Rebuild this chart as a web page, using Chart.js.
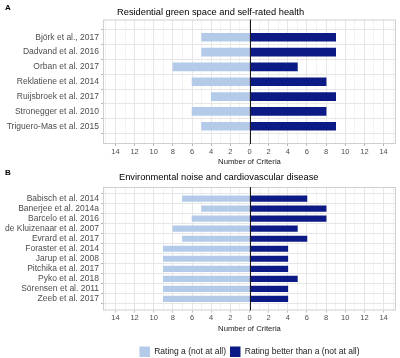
<!DOCTYPE html>
<html>
<head>
<meta charset="utf-8">
<script src="https://cdn.jsdelivr.net/npm/chart.js@4"></script>
<style>
  html, body { margin: 0; padding: 0; width: 400px; height: 358px; overflow: hidden; background: #fff; font-family: "Liberation Sans", Arial, sans-serif; }
  .wrap { position: absolute; left: 0; width: 400px; }
  .txt { position: absolute; white-space: nowrap; line-height: 1; color: #000; }
</style>
</head>
<body>
<div class="wrap" id="wa" style="top:0;height:168px;"><canvas id="ca"></canvas></div>
<div class="wrap" id="wb" style="top:159px;height:208px;"><canvas id="cb"></canvas></div>
<div class="txt" style="left:5px;top:4px;font-size:8px;font-weight:bold;">A</div>
<div class="txt" style="left:117px;top:7.5px;font-size:9.3px;">Residential green space and self-rated health</div>
<div class="txt" style="left:5px;top:169px;font-size:8px;font-weight:bold;">B</div>
<div class="txt" style="left:119px;top:172.5px;font-size:9.3px;">Environmental noise and cardiovascular disease</div>
<script>
// ---------- data ----------
const studiesA = ["Björk et al., 2017", "Dadvand et al. 2016", "Orban et al. 2017", "Reklatiene et al. 2014", "Ruijsbroek et al. 2017", "Stronegger et al. 2010", "Triguero-Mas et al. 2015"];
const ratingA_A = [5, 5, 8, 6, 4, 6, 5];       // Rating a (not at all)
const ratingBetter_A = [9, 9, 5, 8, 9, 8, 9];  // Rating better than a

const studiesB = ["Babisch et al. 2014", "Banerjee et al. 2014a", "Barcelo et al. 2016", "de Kluizenaar et al. 2007", "Evrard et al. 2017", "Foraster et al. 2014", "Jarup et al. 2008", "Pitchika et al. 2017", "Pyko et al. 2018", "Sörensen et al. 2011", "Zeeb et al. 2017"];
const ratingA_B = [7, 5, 6, 8, 7, 9, 9, 9, 9, 9, 9];
const ratingBetter_B = [6, 8, 8, 5, 6, 4, 4, 4, 5, 4, 4];

const xTickValues = [-14, -12, -10, -8, -6, -4, -2, 0, 2, 4, 6, 8, 10, 12, 14];
const seriesNames = ["Rating a (not at all)", "Rating better than a (not at all)"];
const colLight = "#b3cbe9";
const colDark = "#0b1a85";
const FONT = "'Liberation Sans', Arial, sans-serif";

const framePlugin = {
  id: 'frame',
  afterDatasetsDraw(chart) {
    const {ctx, chartArea: a, scales} = chart;
    ctx.save();
    ctx.strokeStyle = '#cfcfcf';
    ctx.lineWidth = 1;
    ctx.strokeRect(a.left + 0.5, a.top + 0.5, a.right - a.left - 1, a.bottom - a.top - 1);
    const x0 = Math.round(scales.x.getPixelForValue(0)) + 0.5;
    ctx.strokeStyle = '#1a1a1a';
    ctx.beginPath();
    ctx.moveTo(x0, a.top);
    ctx.lineTo(x0, a.bottom);
    ctx.stroke();
    ctx.restore();
  }
};

function makeChart(canvasId, labels, neg, pos, padTop, barTh, xHeight, titlePadBottom, showLegend) {
  const n = labels.length;
  return new Chart(document.getElementById(canvasId), {
    type: 'bar',
    data: {
      datasets: [
        { label: seriesNames[0], data: neg.map((v, i) => ({ x: -v, y: i })), backgroundColor: colLight, borderWidth: 0, grouped: false, barThickness: barTh },
        { label: seriesNames[1], data: pos.map((v, i) => ({ x: v, y: i })), backgroundColor: colDark, borderWidth: 0, grouped: false, barThickness: barTh }
      ]
    },
    options: {
      indexAxis: 'y',
      responsive: true,
      maintainAspectRatio: false,
      animation: false,
      layout: { padding: { top: padTop, right: 4, left: 0, bottom: 0 } },
      plugins: {
        tooltip: { enabled: false },
        legend: {
          display: showLegend,
          position: 'bottom',
          fullSize: false,
          labels: { boxWidth: 10.5, boxHeight: 10.5, padding: 4, color: '#1a1a1a', font: { family: FONT, size: 8.5 } }
        }
      },
      scales: {
        x: {
          type: 'linear',
          min: -15.3, max: 15.3,
          afterBuildTicks(s) {
            const t = [];
            for (let v = -15; v <= 15; v++) t.push({ value: v });
            s.ticks = t;
          },
          afterFit(s) { s.height = xHeight; },
          ticks: {
            autoSkip: false, maxRotation: 0, padding: 1,
            color: '#4d4d4d', font: { family: FONT, size: 7.5 },
            callback: v => (xTickValues.includes(v) ? String(Math.abs(v)) : '')
          },
          grid: {
            color: c => (c.tick && c.tick.value % 2 === 0 ? '#e6e6e6' : '#f3f3f3'),
            tickColor: c => (c.tick && c.tick.value % 2 === 0 && Math.abs(c.tick.value) <= 14 ? '#b8b8b8' : 'rgba(0,0,0,0)'),
            tickLength: 2, lineWidth: 1
          },
          border: { display: false },
          title: { display: true, text: 'Number of Criteria', color: '#1a1a1a', font: { family: FONT, size: 7.7 }, padding: { top: 0, bottom: titlePadBottom } }
        },
        y: {
          type: 'linear',
          reverse: true,
          min: -0.6, max: n - 1 + 0.6,
          afterBuildTicks(s) { s.ticks = labels.map((_, i) => ({ value: i })); },
          afterFit(s) { s.width = 103; },
          ticks: {
            autoSkip: false, padding: 2,
            color: '#4d4d4d', font: { family: FONT, size: 8.5 },
            callback: v => labels[v]
          },
          grid: { color: '#e6e6e6', tickColor: '#b8b8b8', tickLength: 2, lineWidth: 1 },
          border: { display: false }
        }
      }
    },
    plugins: [framePlugin]
  });
}

makeChart('ca', studiesA, ratingA_A, ratingBetter_A, 19.5, 8, 24, 1.4, false);
makeChart('cb', studiesB, ratingA_B, ratingBetter_B, 28, 5.5, 32, 9.4, true);
</script>
</body>
</html>
